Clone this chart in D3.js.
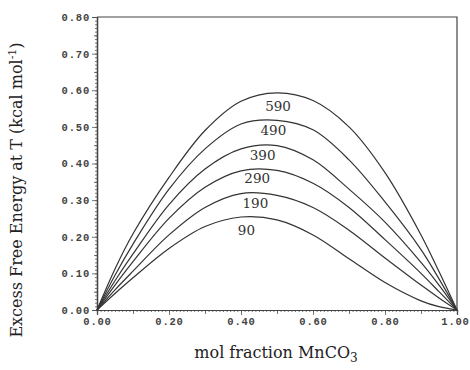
<!DOCTYPE html>
<html lang="en">
	<head>
		<meta charset="utf-8">
		<title>Excess free energy</title>
		<script type="text/javascript" src="https://d3js.org/d3.v7.min.js"></script>
		<style>
			body { margin: 0; background: #fff; }
			.tick-label { font-family: "Liberation Mono", "DejaVu Sans Mono", monospace; font-size: 10.5px; font-weight: bold; fill: #444; letter-spacing: 0.8px; }
			.title { font-family: "DejaVu Serif", serif; fill: #222; }
			.curve-label { font-family: "DejaVu Serif", serif; font-size: 13.5px; fill: #333; }
		</style>
	</head>
	<body>
		<svg></svg>
		<script type="text/javascript">
			// mol fraction MnCO3
			var molFraction = [0, 0.05, 0.1, 0.2, 0.3, 0.4, 0.5, 0.6, 0.7, 0.8, 0.9, 0.95, 1];

			// excess free energy (kcal/mol), one array per temperature
			var g590 = [0, 0.112, 0.208, 0.362, 0.490, 0.570, 0.593, 0.572, 0.500, 0.375, 0.205, 0.105, 0];
			var g490 = [0, 0.095, 0.180, 0.330, 0.440, 0.508, 0.518, 0.492, 0.410, 0.295, 0.165, 0.085, 0];
			var g390 = [0, 0.080, 0.153, 0.288, 0.385, 0.440, 0.449, 0.410, 0.330, 0.240, 0.130, 0.068, 0];
			var g290 = [0, 0.068, 0.132, 0.250, 0.335, 0.380, 0.381, 0.346, 0.280, 0.192, 0.100, 0.050, 0];
			var g190 = [0, 0.055, 0.106, 0.205, 0.280, 0.318, 0.313, 0.280, 0.218, 0.142, 0.068, 0.033, 0];
			var g90  = [0, 0.045, 0.088, 0.168, 0.228, 0.254, 0.246, 0.205, 0.140, 0.075, 0.025, 0.009, 0];

			var curveNames = ["590", "490", "390", "290", "190", "90"];
			var curveValues = [g590, g490, g390, g290, g190, g90];
			// where each temperature label sits (mol fraction, energy)
			var labelX = [0.503, 0.490, 0.460, 0.445, 0.440, 0.415];
			var labelY = [0.553, 0.488, 0.418, 0.357, 0.289, 0.215];

			var xTicks = [0, 0.2, 0.4, 0.6, 0.8, 1.0];
			var yTicks = [0, 0.1, 0.2, 0.3, 0.4, 0.5, 0.6, 0.7, 0.8];

			var width = 470;
			var height = 370;
			var plotLeft = 97, plotRight = 457, plotTop = 17, plotBottom = 310;

			var svg = d3.select("svg")
				.attr("width", width)
				.attr("height", height);

			var x = d3.scaleLinear().domain([0, 1]).range([plotLeft, plotRight]);
			var y = d3.scaleLinear().domain([0, 0.8]).range([plotBottom, plotTop]);

			// frame (top and right sides)
			svg.append("path")
				.attr("d", "M" + x(0) + "," + y(0.8) + "H" + x(1) + "V" + y(0))
				.attr("fill", "none")
				.attr("stroke", "#444")
				.attr("stroke-width", 1.2);

			// minor ticks every 0.01
			var yAxisMinor = d3.axisLeft(y).tickValues(d3.range(0, 0.801, 0.01)).tickSize(2).tickFormat("");
			var xAxisMinor = d3.axisBottom(x).tickValues(d3.range(0, 1.001, 0.01)).tickSize(2).tickFormat("");
			var yAxisMid = d3.axisLeft(y).tickValues(d3.range(0.05, 0.8, 0.1)).tickSize(3).tickFormat("");
			var xAxisMid = d3.axisBottom(x).tickValues(d3.range(0.1, 1, 0.2)).tickSize(4).tickFormat("");

			var yAxis = d3.axisLeft(y).tickValues(yTicks).tickSize(5).tickPadding(2).tickFormat(d3.format(".2f"));
			var xAxis = d3.axisBottom(x).tickValues(xTicks).tickSize(5).tickPadding(3).tickFormat(d3.format(".2f"));

			[yAxisMinor, yAxisMid, yAxis].forEach(function(ax) {
				svg.append("g").attr("transform", "translate(" + plotLeft + ",0)").call(ax);
			});
			[xAxisMinor, xAxisMid, xAxis].forEach(function(ax) {
				svg.append("g").attr("class", "x-axis").attr("transform", "translate(0," + plotBottom + ")").call(ax);
			});

			svg.selectAll(".domain").attr("stroke", "#444").attr("stroke-width", 1.2);
			svg.selectAll(".tick line").attr("stroke", "#555").attr("stroke-width", 0.8);
			svg.selectAll(".tick text").attr("class", "tick-label");
			// keep the last x label inside the window
			svg.selectAll(".x-axis .tick text").filter(function(d) { return d === 1; }).attr("dx", -2);

			// curves
			var line = d3.line()
				.x(function(d, i) { return x(molFraction[i]); })
				.y(function(d) { return y(d); })
				.curve(d3.curveCatmullRom.alpha(0.5));

			svg.selectAll(".curve")
				.data(curveValues)
				.enter()
				.append("path")
				.attr("class", "curve")
				.attr("d", line)
				.attr("fill", "none")
				.attr("stroke", "#333")
				.attr("stroke-width", 1.2);

			svg.selectAll(".curve-label")
				.data(curveNames)
				.enter()
				.append("text")
				.attr("class", "curve-label")
				.attr("x", function(d, i) { return x(labelX[i]); })
				.attr("y", function(d, i) { return y(labelY[i]); })
				.attr("text-anchor", "middle")
				.attr("dominant-baseline", "middle")
				.text(function(d) { return d; });

			// axis titles
			var yt = svg.append("text")
				.attr("class", "title")
				.attr("transform", "translate(22,190) rotate(-90)")
				.attr("text-anchor", "middle")
				.style("font-size", "16px");
			yt.append("tspan").text("Excess Free Energy at T (kcal mol");
			yt.append("tspan").attr("dy", -6).style("font-size", "11px").text("-1");
			yt.append("tspan").attr("dy", 6).text(")");

			var xt = svg.append("text")
				.attr("class", "title")
				.attr("x", 276)
				.attr("y", 358)
				.attr("text-anchor", "middle")
				.style("font-size", "16px");
			xt.append("tspan").text("mol fraction MnCO");
			xt.append("tspan").attr("dy", 4).style("font-size", "12px").text("3");
		</script>
	</body>
</html>
